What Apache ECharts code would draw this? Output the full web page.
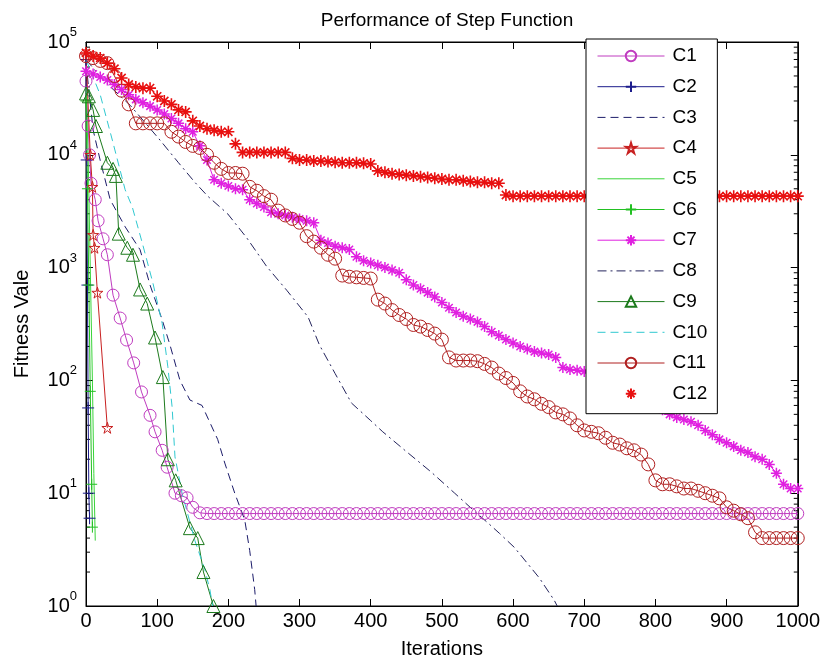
<!DOCTYPE html>
<html>
<head>
<meta charset="utf-8">
<script src="https://cdn.jsdelivr.net/npm/echarts@6/dist/echarts.min.js"></script>
<style>html,body{margin:0;padding:0;background:#fff}#main{width:823px;height:669px}</style>
</head>
<body>
<div id="main"></div>
<script>
// iteration grid used by the series sampled every 10 iterations
var iter10 = [];
for (var i = 0; i <= 1000; i += 10) iter10.push(i);

var c1HeadX = [0, 3, 5, 7, 13, 17, 24, 30, 38, 48, 57, 67, 78, 90, 97, 107, 114, 125, 134, 142, 150];
var c1HeadY = [45000, 18000, 10000, 5600, 4000, 2600, 1800, 1300, 570, 357, 228, 143, 79, 49, 35, 24, 17, 10, 9.5, 9.1, 7.5];
var c1TailY = [6.7, 6.6, 6.6, 6.6, 6.6, 6.6, 6.6, 6.6, 6.6, 6.6, 6.6, 6.6, 6.6, 6.6, 6.6, 6.6, 6.6, 6.6, 6.6, 6.6,
  6.6, 6.6, 6.6, 6.6, 6.6, 6.6, 6.6, 6.6, 6.6, 6.6, 6.6, 6.6, 6.6, 6.6, 6.6, 6.6, 6.6, 6.6, 6.6, 6.6,
  6.6, 6.6, 6.6, 6.6, 6.6, 6.6, 6.6, 6.6, 6.6, 6.6, 6.6, 6.6, 6.6, 6.6, 6.6, 6.6, 6.6, 6.6, 6.6, 6.6,
  6.6, 6.6, 6.6, 6.6, 6.6, 6.6, 6.6, 6.6, 6.6, 6.6, 6.6, 6.6, 6.6, 6.6, 6.6, 6.6, 6.6, 6.6, 6.6, 6.6,
  6.6, 6.6, 6.6, 6.6, 6.6];

var c2X = [0, 1, 2, 3, 4, 5];
var c2Y = [70000, 9000, 700, 57, 10, 6];

var c3X = [0, 10, 20, 34, 55, 76, 90, 107, 118, 132, 146, 163, 185, 195, 209, 223, 230, 237, 239];
var c3Y = [65000, 16600, 8900, 4000, 2300, 1440, 700, 345, 206, 100, 67, 60, 30, 18.5, 10, 5.8, 3.1, 1.4, 1];

var c4X = [0, 6, 9, 10, 12, 16, 30];
var c4Y = [76000, 10000, 5200, 1950, 1500, 600, 38];

var c5X = [0, 3, 6, 9, 11, 13];
var c5Y = [40000, 10000, 1000, 100, 15, 3.8];

var c6X = [0, 2, 4, 6, 8, 9];
var c6Y = [30000, 5000, 700, 80, 12, 5];

var c7Y = [55000, 52000, 49000, 46000, 42000, 38000, 34000, 31000, 29000, 27000,
  25000, 23000, 21000, 19000, 17000, 16000, 12000, 9000, 6000, 5600,
  5300, 5000, 4900, 4000, 3700, 3450, 3100, 3000, 2900, 2800,
  2700, 2600, 2500, 1750, 1650, 1550, 1500, 1450, 1250, 1150,
  1100, 1050, 1000, 950, 900, 780, 700, 650, 600, 550,
  490, 440, 400, 370, 350, 330, 300, 270, 250, 230,
  215, 200, 190, 180, 175, 170, 160, 130, 125, 123,
  120, 115, 110, 105, 100, 95, 85, 80, 72, 65,
  60, 55, 50, 47, 45, 43, 40, 36, 33, 30,
  28, 26, 24, 23, 21, 20, 18, 15, 12, 11, 11];

var c8X = [0, 24, 62, 104, 130, 153, 171, 199, 226, 254, 282, 312, 328, 350, 373, 400, 417, 448, 485, 518, 545, 564, 581, 602, 637, 658, 662];
var c8Y = [70000, 46000, 27500, 13500, 8500, 5700, 4300, 3000, 1830, 1020, 630, 365, 206, 115, 63, 44, 35, 24, 15.4, 10, 7, 5.5, 4.4, 3.3, 1.77, 1.12, 1];

var c9X = [0, 4, 10, 14, 30, 38, 42, 46, 58, 66, 76, 86, 97, 108, 115, 126, 146, 157, 165, 179];
var c9Y = [35000, 33000, 25000, 18000, 8500, 7500, 6500, 2000, 1500, 1300, 640, 480, 240, 107, 20, 13, 4.9, 4.0, 2.0, 1.0];

var c10X = [0, 20, 37, 55, 65, 79, 94, 107, 115, 121, 125, 135, 153, 167, 174, 178];
var c10Y = [70000, 34000, 13500, 4900, 3450, 1660, 730, 320, 132, 58, 21, 10, 3.8, 2.1, 1.4, 1];

var c11Y = [75000, 72000, 68000, 65000, 50000, 37000, 28000, 19000, 19000, 19000,
  19000, 19000, 16000, 14500, 13000, 12000, 11500, 10000, 8500, 7500,
  6900, 6900, 6800, 5200, 4800, 4300, 4000, 3200, 2900, 2700,
  2500, 1900, 1700, 1500, 1300, 1200, 850, 830, 820, 810,
  800, 520, 480, 420, 380, 350, 310, 300, 280, 260,
  230, 160, 150, 150, 150, 148, 140, 130, 115, 105,
  95, 80, 72, 68, 62, 58, 52, 50, 46, 40,
  36, 35, 34, 31, 28, 27, 25, 24, 22, 18,
  13, 12, 12, 11.5, 11, 11, 10.5, 10, 9.5, 9,
  7.5, 7, 6.5, 6, 4.5, 4, 4, 4, 4, 4, 4];

var c12Y = [80000, 75000, 72000, 65000, 58000, 48000, 42000, 40000, 39000, 39000,
  33000, 30000, 28000, 25000, 24000, 20000, 18000, 17000, 16500, 16000,
  16000, 12500, 10500, 10500, 10500, 10500, 10500, 10500, 10500, 9300,
  9000, 9000, 8800, 8800, 8700, 8600, 8500, 8500, 8500, 8400,
  8300, 7200, 7000, 6800, 6700, 6600, 6500, 6400, 6300, 6200,
  6100, 6000, 6000, 5900, 5800, 5700, 5700, 5600, 5600, 4400,
  4300, 4300, 4300, 4300, 4300, 4300, 4300, 4300, 4300, 4300,
  4300, 4300, 4300, 4300, 4300, 4300, 4300, 4300, 4300, 4300,
  4300, 4300, 4300, 4300, 4300, 4300, 4300, 4300, 4300, 4300,
  4300, 4300, 4300, 4300, 4300, 4300, 4300, 4300, 4300, 4300, 4300];

var names = ['C1', 'C2', 'C3', 'C4', 'C5', 'C6', 'C7', 'C8', 'C9', 'C10', 'C11', 'C12'];
var lineOnly = ['C3', 'C5', 'C8', 'C10'];
var FONT = "'Liberation Sans', Arial, sans-serif";

var plusPath = 'path://M5,0L5,10M0,5L10,5';
var starPath = 'path://M5,0L5,10M0,5L10,5M1.6,1.6L8.4,8.4M8.4,1.6L1.6,8.4';
var pentaPath = 'path://M5,0L6.12,3.46L9.76,3.45L6.81,5.59L7.94,9.05L5,6.9L2.06,9.05L3.19,5.59L0.24,3.45L3.88,3.46Z';

function pairs(xs, ys) {
  return xs.map(function (x, k) { return [x, ys[k]]; });
}

function line(name, data, color, symbol, size, dash, noLine, markWidth) {
  return {
    name: name,
    type: 'line',
    data: data,
    symbol: symbol || 'none',
    symbolSize: size || 0,
    showSymbol: !!symbol,
    color: color,
    lineStyle: { color: color, width: noLine ? 0 : 1, type: dash || 'solid', opacity: noLine ? 0 : 1 },
    itemStyle: { color: 'rgba(255,255,255,0)', borderColor: color, borderWidth: markWidth || 1 },
    emphasis: { disabled: true },
    animation: false
  };
}

var myChart = echarts.init(document.getElementById('main'));

// minor ticks of the log axis (2..9 in each decade)
var minorTicks = [];
for (var e = 0; e < 5; e++) {
  for (var m = 2; m <= 9; m++) minorTicks.push([0, m * Math.pow(10, e)]);
}

var axisText = { color: '#000', fontSize: 20, fontFamily: FONT };

option = {
  animation: false,
  backgroundColor: '#fff',
  title: {
    text: 'Performance of Step Function',
    left: 442,
    top: 6,
    textAlign: 'center',
    textStyle: { fontSize: 19, fontWeight: 'normal', color: '#000', fontFamily: FONT }
  },
  grid: { left: 86, right: 25, top: 42, bottom: 63, show: true, borderColor: '#000', borderWidth: 1, backgroundColor: '#fff' },
  legend: {
    data: names.map(function (n) {
      if (n === 'C12') return { name: n, lineStyle: { width: 0, opacity: 0 } };
      if (lineOnly.indexOf(n) >= 0) return { name: n, itemStyle: { opacity: 0, borderWidth: 0 } };
      return n;
    }),
    orient: 'vertical',
    left: 586,
    top: 39,
    backgroundColor: '#fff',
    borderColor: '#000',
    borderWidth: 1,
    borderRadius: 0,
    padding: [7, 10, 10, 11],
    itemWidth: 67,
    itemHeight: 13,
    itemGap: 10.7,
    lineStyle: { width: 1 },
    selectedMode: false,
    textStyle: { fontSize: 19, lineHeight: 20, color: '#000', fontFamily: FONT, padding: [0, 0, 0, 3] }
  },
  xAxis: [{
    type: 'value',
    min: 0,
    max: 1000,
    interval: 100,
    name: 'Iterations',
    nameLocation: 'middle',
    nameGap: 33,
    nameTextStyle: axisText,
    axisLine: { onZero: false, lineStyle: { color: '#000' } },
    axisTick: { inside: true, length: 7, lineStyle: { color: '#000' } },
    axisLabel: { margin: 5, color: '#000', fontSize: 20, fontFamily: FONT, formatter: function (v) { return String(v); } },
    splitLine: { show: false }
  }, {
    type: 'value',
    position: 'top',
    min: 0,
    max: 1000,
    interval: 100,
    axisLine: { onZero: false, lineStyle: { color: '#000' } },
    axisTick: { inside: true, length: 7, lineStyle: { color: '#000' } },
    axisLabel: { show: false },
    splitLine: { show: false }
  }],
  yAxis: [{
    type: 'log',
    logBase: 10,
    min: 1,
    max: 100000,
    name: 'Fitness Vale',
    nameLocation: 'middle',
    nameGap: 54,
    nameTextStyle: { color: '#000', fontSize: 20, fontFamily: FONT },
    axisLine: { onZero: false, lineStyle: { color: '#000' } },
    axisTick: { inside: true, length: 7, lineStyle: { color: '#000' } },
    axisLabel: {
      margin: 9,
      formatter: function (v) {
        return '{b|10}{s|' + Math.round(Math.log10(v)) + '}';
      },
      rich: {
        b: { fontSize: 20, lineHeight: 32, color: '#000', fontFamily: FONT },
        s: { fontSize: 13, lineHeight: 13, verticalAlign: 'top', color: '#000', fontFamily: FONT }
      }
    },
    splitLine: { show: false }
  }, {
    type: 'log',
    logBase: 10,
    min: 1,
    max: 100000,
    position: 'right',
    axisLine: { onZero: false, lineStyle: { color: '#000' } },
    axisTick: { inside: true, length: 7, lineStyle: { color: '#000' } },
    axisLabel: { show: false },
    splitLine: { show: false }
  }],
  series: [
    line('C1', pairs(c1HeadX, c1HeadY).concat(pairs(iter10.slice(16), c1TailY)), '#c03cc0', 'circle', 12),
    line('C2', pairs(c2X, c2Y), '#1c1c8c', plusPath, 12),
    line('C3', pairs(c3X, c3Y), '#1c1c6a', null, 0, [8, 5]),
    line('C4', pairs(c4X, c4Y), '#c82020', pentaPath, 11),
    line('C5', pairs(c5X, c5Y), '#3ad43a', null, 0),
    line('C6', pairs(c6X, c6Y), '#22c022', plusPath, 11),
    line('C7', pairs(iter10, c7Y), '#e020e0', starPath, 11, null, false, 1.5),
    line('C8', pairs(c8X, c8Y), '#24245c', null, 0, [9, 4, 2, 4]),
    line('C9', pairs(c9X, c9Y), '#1c7a1c', 'triangle', 13),
    line('C10', pairs(c10X, c10Y), '#30c8d0', null, 0, [8, 5]),
    line('C11', pairs(iter10, c11Y), '#b02020', 'circle', 13),
    line('C12', pairs(iter10, c12Y), '#e81010', starPath, 12, null, true, 1.6),
    {
      type: 'custom',
      silent: true,
      clip: false,
      data: minorTicks,
      renderItem: function (params, api) {
        var v = api.value(1);
        var l = api.coord([0, v]);
        var r = api.coord([1000, v]);
        return {
          type: 'group',
          children: [
            { type: 'line', shape: { x1: l[0], y1: l[1], x2: l[0] + 4, y2: l[1] }, style: { stroke: '#000', lineWidth: 1 } },
            { type: 'line', shape: { x1: r[0] - 4, y1: r[1], x2: r[0], y2: r[1] }, style: { stroke: '#000', lineWidth: 1 } }
          ]
        };
      }
    }
  ]
};

myChart.setOption(option);
</script>
</body>
</html>
